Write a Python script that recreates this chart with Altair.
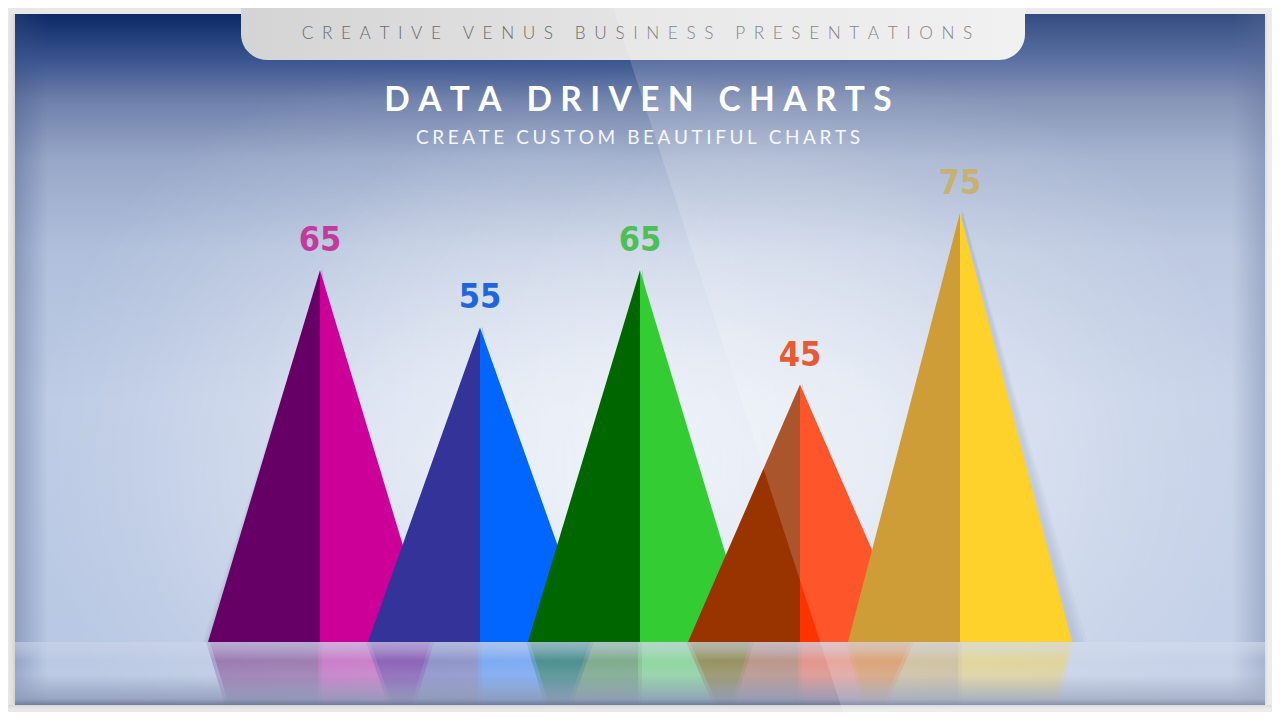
import altair as alt
import pandas as pd

# ---------------- data ----------------
categories = ["Item 1", "Item 2", "Item 3", "Item 4", "Item 5"]
values = [65, 55, 65, 45, 75]
dark_colors = ["#660066", "#333399", "#006600", "#993300", "#C48A10"]
light_colors = ["#CC0099", "#0066FF", "#33CC33", "#FF3300", "#FFC800"]
label_colors = ["#C23A9C", "#1F66DD", "#4DBF55", "#E4390C", "#BCA156"]

banner_text = "CREATIVE VENUS BUSINESS PRESENTATIONS"
title_text = "DATA DRIVEN CHARTS"
subtitle_text = "CREATE CUSTOM BEAUTIFUL CHARTS"

# ---------------- layout constants ----------------
W, H = 1264, 704
HALF = 0.7                      # half base width of a triangle (x units)
XS = alt.Scale(domain=[-0.95, 6.95], nice=False, zero=False)
YS = alt.Scale(domain=[-12.238, 110.839], nice=False, zero=False)
PXS = alt.Scale(domain=[0, W], nice=False, zero=False)
PYS = alt.Scale(domain=[0, H], nice=False, zero=False, reverse=True)


def spaced(s, gap):
    return (gap + " " + gap).join(gap.join(w) for w in s.split(" "))


one = pd.DataFrame({"k": [0]})


def rect(x1, x2, y1, y2, fill, **kw):
    return alt.Chart(one).mark_rect(fill=fill, clip=True, **kw).encode(
        x=alt.value(x1), x2=alt.value(x2), y=alt.value(y1), y2=alt.value(y2))


def lin(stops, vertical=True):
    return {"gradient": "linear", "x1": 0, "y1": 0,
            "x2": 0 if vertical else 1, "y2": 1 if vertical else 0,
            "stops": [{"offset": o, "color": c} for o, c in stops]}


def radial(stops):
    return {"gradient": "radial", "x1": 0.5, "y1": 0.5, "r1": 0,
            "x2": 0.5, "y2": 0.5, "r2": 0.5,
            "stops": [{"offset": o, "color": c} for o, c in stops]}


# ---------------- triangle geometry from data ----------------
rows = []
for i, (cat, v) in enumerate(zip(categories, values)):
    cx = i + 1
    rows += [
        {"cat": cat, "half": "L", "x": cx - HALF, "y": 0},
        {"cat": cat, "half": "L", "x": cx, "y": v},
        {"cat": cat, "half": "R", "x": cx, "y": v},
        {"cat": cat, "half": "R", "x": cx + HALF, "y": 0},
    ]
tri = pd.DataFrame(rows)
tri["ym"] = -tri["y"]

SH = [0.02, 0.04, 0.06, 0.08]
shadow_rows = []
for i, (cat, v) in enumerate(zip(categories, values)):
    cx = i + 1.015
    for d in SH:
        shadow_rows += [
            {"cat": cat, "d": d, "x": cx - HALF - d * 0.6, "y": 0},
            {"cat": cat, "d": d, "x": cx, "y": v + d * 6},
            {"cat": cat, "d": d, "x": cx + HALF + d, "y": 0},
        ]
shadows = pd.DataFrame(shadow_rows)

labels = pd.DataFrame({"cat": categories, "x": [i + 1 for i in range(len(values))],
                       "y": values, "label": [str(v) for v in values]})

layers = []

# panel background
layers.append(rect(7, 1257, 6, 697, lin([
    (0, "#0b2966"), (0.067, "#3b5591"), (0.124, "#6e80aa"), (0.21, "#97a7c8"),
    (0.34, "#b0bfdb"), (0.56, "#bdcbe5"), (1, "#b8c7e3")])))

# soft central glow (three overlapping circles)
R = 390
for gcx, a in [(420, 0.45), (640, 0.6), (860, 0.45)]:
    cxp, cyp = gcx - 8, 460 - 8
    layers.append(rect(cxp - R, cxp + R, cyp - R, cyp + R, radial([
        (0, f"rgba(255,255,255,{a})"), (0.25, f"rgba(255,255,255,{a * 0.85:.3f})"),
        (0.5, f"rgba(255,255,255,{a * 0.55:.3f})"), (0.75, f"rgba(255,255,255,{a * 0.22:.3f})"),
        (1, "rgba(255,255,255,0)")])))

# side vignettes
layers.append(rect(7, 40, 6, 697, lin([(0, "rgba(60,80,130,0.35)"), (1, "rgba(60,80,130,0)")], False)))
layers.append(rect(1224, 1257, 6, 697, lin([(0, "rgba(60,80,130,0)"), (1, "rgba(60,80,130,0.35)")], False)))

# reflections (two slightly offset copies for a softer look)
for i, cat in enumerate(categories):
    for half, col in [("L", dark_colors[i]), ("R", light_colors[i])]:
        for dx in [-0.012, 0.012]:
            layers.append(
                alt.Chart(tri).transform_filter(
                    (alt.datum.cat == cat) & (alt.datum.half == half)
                ).transform_calculate(xr=alt.datum.x + dx).mark_area(
                    color=col, opacity=0.26, clip=True).encode(
                    x=alt.X("xr:Q", scale=XS, axis=None),
                    y=alt.Y("ym:Q", scale=YS, axis=None)))

# fade of reflections
layers.append(rect(7, 1257, 634, 697, lin([
    (0, "rgba(205,214,234,0.6)"), (0.12, "rgba(205,214,234,0.45)"),
    (0.3, "rgba(205,214,234,0.1)"), (0.6, "rgba(200,210,230,0.3)"),
    (1, "rgba(192,202,224,0.92)")])))

# bottom vignette
layers.append(rect(7, 1257, 667, 697, lin([(0, "rgba(60,75,115,0)"), (0.8, "rgba(60,75,115,0.3)"), (1, "rgba(60,75,115,0.6)")])))

# outer frame strips
FR = "#e8e8e8"
layers.append(rect(0, 7, 0, H, lin([(0, FR), (0.6, "#e0e0e0"), (1, "#d2d2d2")], False)))
layers.append(rect(1257, W, 0, H, lin([(0, "#d8d8d8"), (0.5, FR), (1, FR)], False)))
layers.append(rect(0, W, 0, 6, FR))
layers.append(rect(0, W, 697, H, lin([(0, "#d6d6d6"), (0.6, FR), (1, FR)])))

# triangle shadows
for d in SH[::-1]:
    layers.append(
        alt.Chart(shadows).transform_filter(alt.datum.d == d).mark_area(
            color="#1c2c4c", opacity=0.035, clip=True).encode(
            x=alt.X("x:Q", scale=XS, axis=None),
            y=alt.Y("y:Q", scale=YS, axis=None),
            detail="cat:N"))

# triangles
for i, cat in enumerate(categories):
    for half, col in [("L", dark_colors[i]), ("R", light_colors[i])]:
        layers.append(
            alt.Chart(tri).transform_filter(
                (alt.datum.cat == cat) & (alt.datum.half == half)
            ).mark_area(color=col, clip=True).encode(
                x=alt.X("x:Q", scale=XS, axis=None),
                y=alt.Y("y:Q", scale=YS, axis=None)))

# value labels
layers.append(
    alt.Chart(labels).mark_text(
        font="Liberation Sans Narrow, DejaVu Sans Condensed, sans-serif",
        fontSize=34, fontWeight="bold", baseline="bottom", dy=-12).encode(
        x=alt.X("x:Q", scale=XS, axis=None),
        y=alt.Y("y:Q", scale=YS, axis=None),
        text="label:N",
        color=alt.Color("cat:N", scale=alt.Scale(domain=categories, range=label_colors), legend=None)))

# banner
layers.append(alt.Chart(one).mark_rect(
    fill=lin([(0, "#d4d4d4"), (0.5, "#e4e4e4"), (1, "#eeeeee")], False),
    cornerRadiusBottomLeft=30, cornerRadiusBottomRight=30).encode(
    x=alt.value(233), x2=alt.value(1017), y=alt.value(0), y2=alt.value(52)))

layers.append(alt.Chart(one).mark_text(
    text=spaced(banner_text, "\u2009" * 4), font="Lato", fontSize=17.2, fontWeight=300,
    color="#6a6a6a", baseline="middle", align="center").encode(
    x=alt.value(629), y=alt.value(26)))

layers.append(alt.Chart(one).mark_text(
    text=spaced(title_text, "\u2005"), font="Lato", fontSize=33.5, fontWeight="bold",
    color="#ffffff", baseline="middle", align="center").encode(
    x=alt.value(630), y=alt.value(93)))

layers.append(alt.Chart(one).mark_text(
    text=spaced(subtitle_text, "\u2009\u200a"), font="Lato", fontSize=19, fontWeight=400,
    color="#f4f6fa", baseline="middle", align="center").encode(
    x=alt.value(630), y=alt.value(130)))

# light beam overlay (everything right of a diagonal)
beam = pd.DataFrame({"py": [0, H], "px": [605, 835], "px2": [W, W]})
layers.append(alt.Chart(beam).mark_area(
    orient="horizontal", color="#ffffff", opacity=0.17, clip=True).encode(
    y=alt.Y("py:Q", scale=PYS, axis=None),
    x=alt.X("px:Q", scale=PXS, axis=None),
    x2="px2:Q"))

chart = alt.layer(*layers).resolve_scale(x="independent", y="independent").properties(
    width=W, height=H, padding=0, background=FR,
    autosize=alt.AutoSizeParams(type="fit", contains="padding"),
).configure_view(stroke=None)

chart.save("out.html", embed_options={"renderer": "svg", "actions": False})
